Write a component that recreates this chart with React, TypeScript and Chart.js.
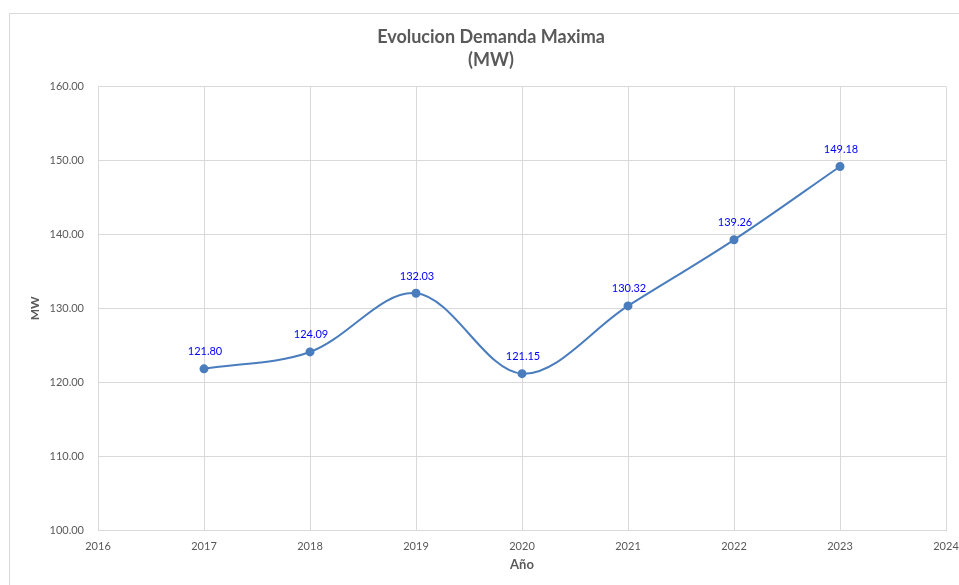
import React, { useEffect, useRef } from "react";
import { Chart, registerables } from "chart.js";

Chart.register(...registerables);

const years = [2017, 2018, 2019, 2020, 2021, 2022, 2023];
const demandMW = [121.8, 124.09, 132.03, 121.15, 130.32, 139.26, 149.18];
const titleLines = ["Evolucion Demanda Maxima", "(MW)"];
const xAxisTitle = "Año";
const yAxisTitle = "MW";

const FONT = "Lato, 'Open Sans', sans-serif";
const TEXT = "#595959";
const GRID = "#d9d9d9";
const LINE = "#4a7dbd";

const dataLabels = {
  id: "dataLabels",
  afterDatasetsDraw(chart: any) {
    const ctx = chart.ctx;
    const meta = chart.getDatasetMeta(0);
    const ds = chart.data.datasets[0];
    ctx.save();
    ctx.fillStyle = "#0000ff";
    ctx.font = `11px ${FONT}`;
    ctx.textAlign = "center";
    ctx.textBaseline = "middle";
    meta.data.forEach((pt: any, i: number) => {
      const v = ds.data[i].y as number;
      ctx.fillText(v.toFixed(2), pt.x + 1, pt.y - 17);
    });
    ctx.restore();
  },
};

export default function App() {
  const ref = useRef<HTMLCanvasElement>(null);
  useEffect(() => {
    if (!ref.current) return;
    const chart = new Chart(ref.current, {
      type: "line",
      data: {
        datasets: [
          {
            data: years.map((y, i) => ({ x: y, y: demandMW[i] })),
            borderColor: LINE,
            backgroundColor: LINE,
            borderWidth: 2,
            pointRadius: 3.5,
            pointBackgroundColor: LINE,
            pointBorderColor: LINE,
            tension: 0.34,
            fill: false,
          },
        ],
      },
      options: {
        animation: false,
        responsive: true,
        maintainAspectRatio: false,
        layout: { padding: { left: 26, right: 26, top: 0, bottom: 0 } },
        plugins: {
          legend: { display: false },
          tooltip: { enabled: false },
          title: {
            display: true,
            text: titleLines,
            color: TEXT,
            font: { family: FONT, size: 18, weight: "bold", lineHeight: 23 / 18 },
            padding: { top: 12, bottom: 14.5 },
          },
        },
        scales: {
          x: {
            type: "linear",
            min: 2016,
            max: 2024,
            ticks: {
              stepSize: 1,
              color: TEXT,
              font: { family: FONT, size: 11 },
              padding: 10,
              callback: (v: any) => String(v),
            },
            grid: { color: GRID, drawTicks: false },
            border: { color: GRID },
            title: {
              display: true,
              text: xAxisTitle,
              color: TEXT,
              font: { family: FONT, size: 13, weight: "bold", lineHeight: 1.2 },
              padding: { top: 0, bottom: 16 },
            },
            afterFit: (s: any) => {
              s.height = 59;
            },
          },
          y: {
            min: 100,
            max: 160,
            ticks: {
              stepSize: 10,
              color: TEXT,
              font: { family: FONT, size: 11 },
              padding: 14,
              callback: (v: any) => Number(v).toFixed(2),
            },
            grid: { color: GRID, drawTicks: false },
            border: { color: GRID },
            title: {
              display: true,
              text: yAxisTitle,
              color: TEXT,
              font: { family: FONT, size: 12, weight: "bold", lineHeight: 1.2 },
              padding: { top: -8, bottom: 0 },
            },
            afterFit: (s: any) => {
              s.width = 62;
            },
          },
        },
      },
      plugins: [dataLabels],
    });
    return () => chart.destroy();
  }, []);

  return (
    <div
      style={{
        position: "fixed",
        left: 0,
        top: 0,
        width: 959,
        height: 585,
        overflow: "hidden",
        background: "#fff",
      }}
    >
      <div
        style={{
          position: "absolute",
          left: 9,
          top: 13,
          width: 962,
          height: 575,
          border: "1px solid #d9d9d9",
          background: "#fff",
        }}
      >
        <div style={{ position: "relative", width: 962, height: 575 }}>
          <canvas ref={ref} />
        </div>
      </div>
    </div>
  );
}
